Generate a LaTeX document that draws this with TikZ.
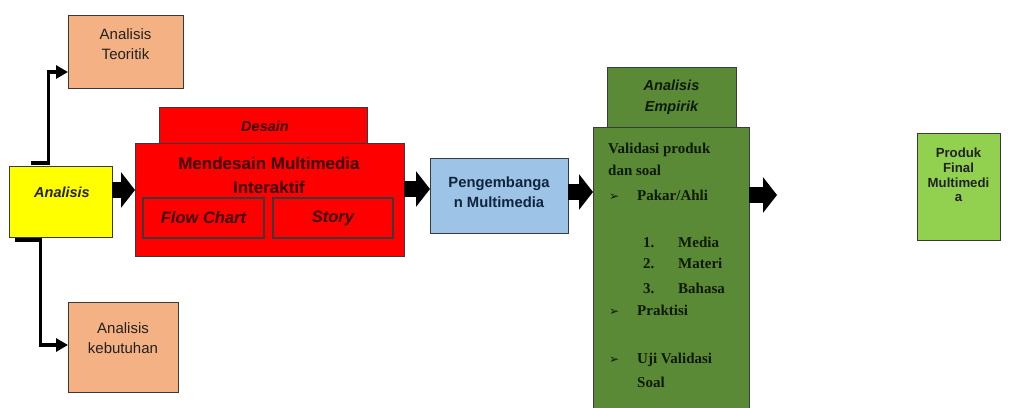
\documentclass[tikz,border=0pt]{standalone}
\usepackage{fontspec}
\setmainfont{Liberation Serif}
\newfontfamily\arialf{Liberation Sans}
\newfontfamily\dejaf{DejaVu Sans}
\usetikzlibrary{arrows.meta}
\definecolor{tanc}{HTML}{F4B183}
\definecolor{yelc}{HTML}{FFFF00}
\definecolor{redc}{HTML}{FF0000}
\definecolor{bluec}{HTML}{9DC3E6}
\definecolor{greenc}{HTML}{5B8A36}
\definecolor{finalc}{HTML}{92D050}
\definecolor{bordc}{HTML}{3A3A3A}
\definecolor{txtgray}{HTML}{222222}
\definecolor{redtxt}{HTML}{3A0000}
\definecolor{bluetxt}{HTML}{10243F}
\definecolor{greentxt}{HTML}{0E1A06}
\tikzset{
  box/.style={draw=bordc, line width=1pt, inner sep=0pt, outer sep=0pt},
  ltxt/.style={inner sep=0pt, align=center, text=txtgray, font=\arialf\fontsize{15}{20}\selectfont},
  bitxt/.style={inner sep=0pt, align=center, text=txtgray, font=\arialf\bfseries\itshape\fontsize{14.5}{21}\selectfont},
  redbtxt/.style={inner sep=0pt, align=center, text=redtxt, font=\arialf\bfseries\fontsize{17}{24}\selectfont},
  redbitxt/.style={inner sep=0pt, align=center, text=redtxt, font=\arialf\bfseries\itshape\fontsize{16.5}{20}\selectfont},
  bluetxtst/.style={inner sep=0pt, align=center, text=bluetxt, font=\arialf\bfseries\fontsize{14.8}{20}\selectfont},
  gtxt/.style={inner sep=0pt, anchor=base west, text=greentxt, font=\bfseries\fontsize{15}{18}\selectfont},
  gbul/.style={inner sep=0pt, anchor=base west, text=greentxt, font=\dejaf\fontsize{12}{12}\selectfont},
  ftxt/.style={inner sep=0pt, align=center, text=txtgray, font=\arialf\bfseries\fontsize{13.2}{14.6}\selectfont},
  conn/.style={draw=black, line width=3.6pt, -{Triangle[length=12pt,width=13pt]}},
  bigarr/.style={draw=black, line width=16pt, -{Triangle[length=14pt,width=35pt]}}
}
\begin{document}
\begin{tikzpicture}[x=1pt,y=-1pt]
\useasboundingbox (0,0) rectangle (1009,407);
\clip (0,0) rectangle (1009,407);
\fill[white] (0,0) rectangle (1009,407);

% coordinates for connector routing
\coordinate (s1) at (31,163);
\coordinate (j1) at (48.5,72);
\coordinate (s2) at (15,240);
\coordinate (j2) at (40.5,345);
\coordinate (r1) at (0,190);
\coordinate (r2) at (0,189);
\coordinate (r3) at (0,192);
\coordinate (r4) at (0,195);
\coordinate (fe) at (777,195);

% left boxes
\node[box, fill=tanc, minimum width=115pt, minimum height=73pt] (teo) at (125.5,51.5) {};
\node[box, fill=yelc, minimum width=103pt, minimum height=71pt] (anl) at (60.5,201.5) {};
\node[box, fill=tanc, minimum width=110pt, minimum height=90pt] (keb) at (123,347) {};

% red design boxes
\node[box, fill=redc, minimum width=208pt, minimum height=36pt] (des) at (263,125) {};
\node[box, fill=redc, minimum width=269pt, minimum height=113pt] (red) at (269.5,199.5) {};
\node[box, fill=redc, line width=1.3pt, minimum width=121pt, minimum height=40pt] (flow) at (203.5,218) {};
\node[box, fill=redc, line width=1.3pt, minimum width=120pt, minimum height=40pt] (story) at (333,218) {};

% blue
\node[box, fill=bluec, minimum width=138pt, minimum height=75pt] (blue) at (499,195.5) {};

% green
\node[box, fill=greenc, minimum width=129pt, minimum height=60pt] (emp) at (671.5,97) {};
\node[box, fill=greenc, minimum width=156pt, minimum height=290pt] (grn) at (671,272) {};

% final
\node[box, fill=finalc, minimum width=83pt, minimum height=107pt] (fin) at (958.5,186.5) {};

% connectors
\draw[conn] (s1) -| (j1) -- (teo.west |- j1);
\draw[conn] (s2) -| (j2) -- (keb.west |- j2);
\draw[bigarr] (anl.east |- r1) -- (red.west |- r1);
\draw[bigarr] (red.east |- r2) -- (blue.west |- r2);
\draw[bigarr] (blue.east |- r3) -- (grn.west |- r3);
\draw[bigarr] (grn.east |- r4) -- (fe);

% texts
\node[ltxt] (teoT) at (125.5,44) {Analisis\\Teoritik};
\node[bitxt] (anlT) at (62,192) {Analisis};
\node[ltxt] (kebT) at (123,338) {Analisis\\kebutuhan};
\node[redbitxt, font=\arialf\bfseries\itshape\fontsize{14.5}{18}\selectfont] (desT) at (265,126) {Desain};
\node[redbtxt] (redT) at (269,175) {Mendesain Multimedia\\Interaktif};
\node[redbitxt] (flowT) at (203.5,218) {Flow Chart};
\node[redbitxt] (storyT) at (333,218) {Story};
\node[bluetxtst] (blueT) at (499,192) {Pengembanga\\n Multimedia};
\node[bitxt, text=greentxt] (empT) at (671.5,97.5) {Analisis\\Empirik};
\node[ftxt] (finT) at (958.5,175) {Produk\\Final\\Multimedi\\a};

% green list
\node[gtxt] (g1) at (608,153) {Validasi produk};
\node[gtxt] (g2) at (608,175) {dan soal};
\node[gbul] (b1) at (609,200) {➢};
\node[gtxt] (g3) at (637,200) {Pakar/Ahli};
\node[gtxt] (n1) at (643,247) {1.};
\node[gtxt] (g4) at (678,247) {Media};
\node[gtxt] (n2) at (643,268) {2.};
\node[gtxt] (g5) at (678,268) {Materi};
\node[gtxt] (n3) at (643,293) {3.};
\node[gtxt] (g6) at (678,293) {Bahasa};
\node[gbul] (b2) at (609,315) {➢};
\node[gtxt] (g7) at (637,315) {Praktisi};
\node[gbul] (b3) at (609,363) {➢};
\node[gtxt] (g8) at (637,363) {Uji Validasi};
\node[gtxt] (g9) at (637,387) {Soal};
\end{tikzpicture}
\end{document}
